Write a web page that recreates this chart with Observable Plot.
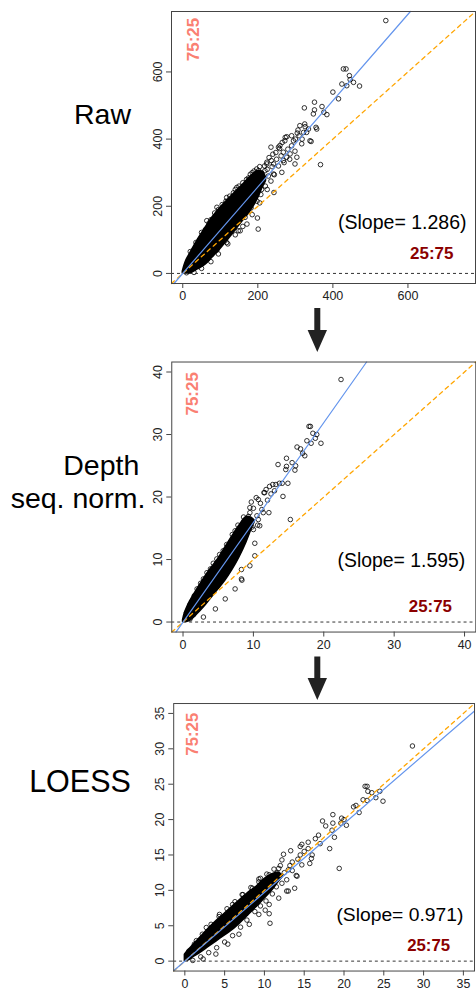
<!DOCTYPE html>
<html><head><meta charset="utf-8">
<script src="https://cdn.jsdelivr.net/npm/d3@7"></script>
<script src="https://cdn.jsdelivr.net/npm/@observablehq/plot@0.6"></script>
<style>
html,body{margin:0;padding:0;background:#fff;width:476px;height:993px;overflow:hidden;}
#root{position:relative;width:476px;height:993px;overflow:hidden;font-family:"Liberation Sans",Arial,sans-serif;}
.panel{position:absolute;}
#overlay{position:absolute;left:0;top:0;}
</style></head><body><div id="root"></div>
<script>
// ---------- data ----------
const panelLabels = [["Raw"], ["Depth", "seq. norm."], ["LOESS"]];
const slopes = [1.286, 1.595, 0.971];
const ratioTop = "75:25";
const ratioBottom = "25:75";

const rawTicks = [0, 200, 400, 600];
const depthTicks = [0, 10, 20, 30, 40];
const loessTicks = [0, 5, 10, 15, 20, 25, 30, 35];

// dense core of each cloud: x, lower edge, upper edge
const rawCoreX  = [0, 5, 10, 20, 40, 60, 80, 100, 120, 140, 160, 180, 200, 215, 222];
const rawCoreLo = [0, 0, 0, 0, 12, 25, 48, 72, 99, 127, 156, 184, 222, 262, 278];
const rawCoreHi = [5, 25, 40, 60, 100, 135, 168, 195, 219, 242, 264, 288, 305, 300, 282];

const depthCoreX  = [0, 0.25, 0.5, 1, 2, 3, 4, 5, 6, 7, 8, 9, 9.8, 10.2];
const depthCoreLo = [0, 0, 0, 0.2, 1.2, 2.4, 3.8, 5.2, 6.6, 8.3, 10.3, 12.7, 15.0, 16.0];
const depthCoreHi = [0.3, 1.4, 2.1, 3.3, 5.2, 7.0, 8.6, 10.1, 11.9, 13.7, 15.4, 16.8, 16.6, 16.2];

const loessCoreX  = [0, 0.5, 1, 2, 3, 4, 5, 6, 7, 8, 9, 10, 11, 11.8, 12.3];
const loessCoreLo = [0, 0.1, 0.5, 1.2, 2.0, 2.8, 3.6, 4.4, 5.4, 6.5, 7.6, 8.8, 10.0, 11.2, 11.9];
const loessCoreHi = [0.9, 1.6, 2.2, 3.4, 4.6, 5.7, 6.7, 7.7, 8.7, 9.7, 10.5, 11.6, 12.3, 12.5, 12.1];

// individual (sparse / fringe) points
const rawPtsX = [541,428,435,444,424,437,455,471,446,400,415,351,324,371,351,348,384,376,355,357,326,307,322,342,367,277,295,235,255,268,317,299,277,224,236,264,244,199,201,243,215,175,197,219,144,117,91,64,166,148,117,91,259,273,224,242,268,286,202,193,215,242,171,153,299,304,339,20,35,50,70,85,105,125,140,160,185,30,50,75,95,120,140,160,185,205,
  205,210,218,225,230,238,250,255,262,270,280,285,290,300,310,318,330,205,212,220,228,235,190,195,210,225,186,198,208,175,182,160,150,135,125,110,100,85,70,55,40,25,15,10,30,45,60,75,95,115,135,150,170,180,190,248,258,265,240,290,272,305,325,335,312];
const rawPtsY = [753,609,609,589,564,559,569,558,577,540,520,510,493,497,487,475,473,480,435,430,437,427,420,393,324,407,395,376,376,361,386,364,346,326,336,301,294,165,132,241,276,284,311,306,256,226,197,157,167,127,92,70,381,405,331,326,336,356,306,276,286,296,147,127,326,346,395,65,92,122,150,180,205,230,250,270,300,3,15,35,58,88,115,140,175,210,
  318,300,320,310,345,318,340,320,350,330,370,340,380,400,410,400,420,285,270,260,290,275,260,245,250,250,230,215,235,205,195,180,170,150,140,125,110,95,80,60,40,22,10,2,70,100,130,160,190,215,240,260,280,295,305,360,372,390,355,410,395,418,445,430,440];

const depthPtsX = [22.45,17.9,18.1,18.45,17.6,18.8,19.6,18.2,16.7,17.3,14.7,13.5,15.5,14.7,14.6,15.9,12.75,13.7,14.9,14.2,11.5,9.7,12.2,15.25,10.9,10.2,8.3,8.37,8.2,10.7,11.6,12.3,13.2,14.1,9.3,10.0,10.7,11.4,7.4,6.7,5.7,4.8,3.9,2.9,2.0,8.3,7.4,6.0,4.6,2.9,9.5,10.2,
  9.5,10,10.5,11,11.2,12,12.5,13,11.8,10.4,9.2,9.8,10.6,9,8.6,8,7.5,7,6.5,5.5,5,4,3,2.2,1.5,1,0.5,1,1.6,2.5,3.4,4.3,5.2,6.2,7,7.8,8.6,9.5,16,17,16.2,19];
const depthPtsY = [38.8,31.3,31.3,30.2,29.0,29.4,28.6,28.6,27.7,26.6,26.2,25.2,25.5,24.9,24.4,24.3,22.0,22.2,22.2,20.1,20.7,19.2,17.5,16.4,15.4,12.6,8.4,6.7,14.3,19.6,20.7,21.7,22.0,22.2,16.9,14.8,16.4,17.5,14.6,12.7,11.4,10.1,8.5,6.9,5.3,6.9,5.3,3.7,2.1,0.8,9.0,10.6,
  17.5,18.2,17.0,19,18,19.5,20.5,21,21.2,19.9,15.8,15.2,15.5,14,13,11.8,10.5,9.4,8.6,7,6,5,3.6,2.5,1.2,0.5,1.5,2.8,4.2,6.2,7.9,9.4,10.8,12.4,14,15.5,16.8,18.3,25,27,28,30];

const loessPtsX = [28.6,22.65,22.9,23.5,22.4,22.9,24.0,24.9,21.2,21.9,18.6,19.7,20.3,17.3,18.6,19.6,17.7,18.8,18.2,19.4,10.6,10.7,9.3,12.4,14.7,16.4,15.7,14.2,13.0,14.0,11.6,12.8,14.1,10.1,15.5,15.9,14.7,13.5,11.8,10.6,9.5,8.5,7.2,6.0,4.35,2.7,1.45,11.8,10.6,9.3,8.1,6.8,5.4,3.9,2.3,12.8,13.8,13.0,
  12,12.5,13.2,13.5,14.5,15,15.5,16,16.8,17,12.2,11.5,11,10.2,9.5,8.8,7.8,7,6,5,4,3,2,1,0.5,1.2,2.2,3.3,4.3,5.3,6.3,7.3,8.3,9.3,10.3,11.2,12.2,13.3,14.5,18.5,20,21.5,23,24.5];
const loessPtsY = [30.4,24.7,24.7,23.8,22.8,22.7,23.1,22.6,21.8,21.0,20.7,20.2,19.2,19.8,19.5,19.5,19.1,17.5,15.9,13.1,6.7,5.35,11.6,15.1,16.5,17.3,13.8,14.4,12.9,12.1,12.5,9.9,12.0,7.2,15.9,14.5,13.6,14.0,13.1,12.2,11.7,10.3,9.4,8.0,6.6,4.75,2.9,8.9,8.0,6.6,5.2,3.8,2.4,1.0,0.3,11.5,10.3,9.9,
  13.5,12.5,13.5,12.8,15,15.5,16.8,15,17.8,16.6,11,10.5,9.5,8.5,7.8,7,5.8,4.8,3.6,2.7,1.9,1.2,0.6,0.1,1.4,2.4,3.8,5.2,6.3,7.4,8.4,9.4,10.4,11.2,12.3,13,14.3,15.6,16.2,18.5,20,22,24,24];

// ---------- drawing ----------
const FONT = '"Liberation Sans", Arial, Helvetica, sans-serif';
const root = document.getElementById("root");

function makePanel(cfg) {
  const core = cfg.coreX.map((x, i) => ({x, lo: cfg.coreLo[i], hi: cfg.coreHi[i]}));
  const pts = cfg.ptsX.map((x, i) => ({x, y: cfg.ptsY[i]}));
  const [d0, d1] = cfg.domain;
  const s = cfg.slope;
  const diag = [{x: d0, y: d0}, {x: d1, y: d1}];
  const fitX0 = Math.max(d0, d0 / s), fitX1 = Math.min(d1, d1 / s);
  const fit = [{x: fitX0, y: s * fitX0}, {x: fitX1, y: s * fitX1}];
  const svg = Plot.plot({
    width: cfg.width, height: cfg.height,
    marginLeft: cfg.ml, marginRight: cfg.mr, marginTop: cfg.mt, marginBottom: cfg.mb,
    x: {domain: cfg.domain, label: null},
    y: {domain: cfg.domain, label: null},
    style: {fontFamily: FONT, background: "transparent", overflow: "visible", color: "#222"},
    marks: [
      Plot.areaY(core, {x: "x", y1: "lo", y2: "hi", fill: "#000", stroke: "#000", strokeWidth: 1.5, curve: "catmull-rom"}),
      Plot.dot(pts, {x: "x", y: "y", r: 2.3, stroke: "#000", strokeWidth: 0.8, fill: "none"}),
      Plot.ruleY([0], {stroke: "#333", strokeWidth: 1, strokeDasharray: "3,3"}),
      Plot.line(diag, {x: "x", y: "y", stroke: "orange", strokeWidth: 1.3, strokeDasharray: "4,4"}),
      Plot.line(fit, {x: "x", y: "y", stroke: "cornflowerblue", strokeWidth: 1.2}),
      Plot.text([`(Slope= ${s})`], {frameAnchor: "bottom-right", textAnchor: "end", dx: cfg.slopeDx, dy: cfg.slopeDy, fontSize: 19.5, fill: "#000"}),
      Plot.text([ratioBottom], {frameAnchor: "bottom-right", textAnchor: "end", dx: cfg.botDx, dy: cfg.botDy, fontSize: 17, fontWeight: "bold", fill: "#8B0000"}),
      Plot.text([ratioTop], {frameAnchor: "top-left", textAnchor: "middle", rotate: -90, dx: cfg.topDx, dy: cfg.topDy, fontSize: 17, fontWeight: "bold", fill: "#FA8072"}),
      Plot.frame({stroke: "#444", strokeWidth: 1}),
      Plot.axisX({ticks: cfg.ticks, tickSize: 5, tickPadding: 3, fontSize: 12.5, stroke: "#444"}),
      Plot.axisY({ticks: cfg.ticks, tickRotate: -90, tickSize: 5, tickPadding: 5, fontSize: 12.5, stroke: "#444"})
    ]
  });
  const div = document.createElement("div");
  div.className = "panel";
  div.style.left = cfg.left + "px";
  div.style.top = cfg.top + "px";
  div.appendChild(svg);
  root.appendChild(div);
}

makePanel({
  left: 130, top: 0, width: 346, height: 310, ml: 41, mr: 1, mt: 11, mb: 27,
  domain: [-30, 780], ticks: rawTicks, slope: slopes[0],
  coreX: rawCoreX, coreLo: rawCoreLo, coreHi: rawCoreHi, ptsX: rawPtsX, ptsY: rawPtsY,
  slopeDx: -9, slopeDy: -55, botDx: -22, botDy: -24.5, topDx: 15, topDy: 28
});
makePanel({
  left: 130, top: 330, width: 348, height: 330, ml: 41.5, mr: 0.7, mt: 31.7, mb: 26.7,
  domain: [-1.6, 41.6], ticks: depthTicks, slope: slopes[1],
  coreX: depthCoreX, coreLo: depthCoreLo, coreHi: depthCoreHi, ptsX: depthPtsX, ptsY: depthPtsY,
  slopeDx: -10.6, slopeDy: -65, botDx: -24, botDy: -20, topDx: 14.5, topDy: 32
});
makePanel({
  left: 130, top: 680, width: 350, height: 313, ml: 43.7, mr: 2, mt: 23.3, mb: 19.1,
  domain: [-1.4, 36.4], ticks: loessTicks, slope: slopes[2],
  coreX: loessCoreX, coreLo: loessCoreLo, coreHi: loessCoreHi, ptsX: loessPtsX, ptsY: loessPtsY,
  slopeDx: -11.3, slopeDy: -50.6, botDx: -24.7, botDy: -20.6, topDx: 12.3, topDy: 31
});

// overlay: row labels and arrows between panels
const NS = "http://www.w3.org/2000/svg";
const ov = document.createElementNS(NS, "svg");
ov.setAttribute("id", "overlay");
ov.setAttribute("width", 476);
ov.setAttribute("height", 993);
const labelPos = [
  [{x: 102.5, y: 124.3, s: 28.5}],
  [{x: 101.3, y: 475, s: 28.5}, {x: 78, y: 508.3, s: 28.5}],
  [{x: 80, y: 792, s: 30.5}]
];
panelLabels.forEach((lines, i) => lines.forEach((t, j) => {
  const el = document.createElementNS(NS, "text");
  el.setAttribute("x", labelPos[i][j].x);
  el.setAttribute("y", labelPos[i][j].y);
  el.setAttribute("text-anchor", "middle");
  el.setAttribute("font-family", FONT);
  el.setAttribute("font-size", labelPos[i][j].s);
  el.setAttribute("fill", "#000");
  el.textContent = t;
  ov.appendChild(el);
}));
[[317.3, 308, 330, 352], [317.3, 656.5, 678, 700]].forEach(([cx, yt, yh, yb]) => {
  const p = document.createElementNS(NS, "polygon");
  const pts = [[cx - 3, yt], [cx + 3, yt], [cx + 3, yh], [cx + 9.7, yh], [cx, yb], [cx - 9.7, yh], [cx - 3, yh]];
  p.setAttribute("points", pts.map(d => d.join(",")).join(" "));
  p.setAttribute("fill", "#222");
  ov.appendChild(p);
});
root.appendChild(ov);
</script></body></html>
